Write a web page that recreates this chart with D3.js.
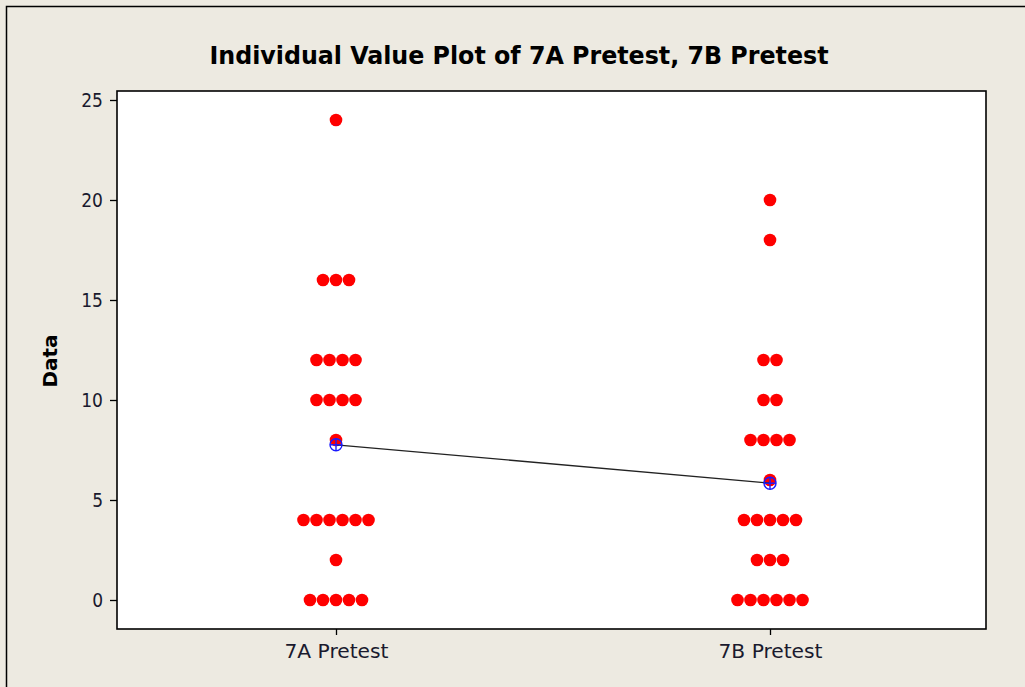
<!DOCTYPE html>
<html><head><meta charset="utf-8">
<script src="https://cdn.jsdelivr.net/npm/d3@7"></script>
<style>html,body{margin:0;padding:0;background:#EDEAE1;overflow:hidden}</style>
</head><body>
<script>
const categories = ["7A Pretest", "7B Pretest"];
const values7A = [24, 16,16,16, 12,12,12,12, 10,10,10,10, 8, 4,4,4,4,4,4, 2, 0,0,0,0,0];
const values7B = [20, 18, 12,12, 10,10, 8,8,8,8, 6, 4,4,4,4,4, 2,2,2, 0,0,0,0,0,0];
const yTicks = [0, 5, 10, 15, 20, 25];
const title = "Individual Value Plot of 7A Pretest, 7B Pretest";
const yLabel = "Data";

const W = 1025, H = 687;
const svg = d3.select("body").append("svg").attr("width", W).attr("height", H);
svg.append("rect").attr("x",0).attr("y",0).attr("width",W).attr("height",H).attr("fill","#EDEAE1");
svg.append("rect").attr("x",6.5).attr("y",6.5).attr("width",W+20).attr("height",H+20)
  .attr("fill","none").attr("stroke","#000").attr("stroke-width",1.5);

const m = {left:117, top:91, right:986, bottom:629};
const x = d3.scaleLinear().domain([0.5, 2.5]).range([119, 987]);
const y = d3.scaleLinear().domain([-1.45, 25.45]).range([m.bottom, m.top]);

svg.append("rect").attr("x",m.left).attr("y",m.top).attr("width",m.right-m.left).attr("height",m.bottom-m.top)
  .attr("fill","#fff").attr("stroke","#000").attr("stroke-width",1.6);

const tickFont = "'DejaVu Sans Condensed', 'DejaVu Sans', sans-serif";
// y axis
const yAxis = d3.axisLeft(y).tickValues(yTicks).tickSize(7).tickPadding(7).tickSizeOuter(0);
const gy = svg.append("g").attr("transform",`translate(${m.left},0)`).call(yAxis);
gy.select(".domain").remove();
gy.selectAll("text").attr("font-family",tickFont).attr("font-size",19).attr("fill","#1a1a2e");
gy.selectAll("line").attr("stroke","#000").attr("stroke-width",1.3);

// x axis
const xAxis = d3.axisBottom(x).tickValues([1,2]).tickFormat((d,i)=>categories[i]).tickSize(6).tickPadding(10).tickSizeOuter(0);
const gx = svg.append("g").attr("transform",`translate(0,${m.bottom})`).call(xAxis);
gx.select(".domain").remove();
gx.selectAll("text").attr("font-family",tickFont).attr("font-size",19).attr("fill","#1a1a2e")
  .attr("textLength",104).attr("lengthAdjust","spacingAndGlyphs");
gx.selectAll("line").attr("stroke","#000").attr("stroke-width",1.3);

// title
svg.append("text").attr("x",519).attr("y",64).attr("text-anchor","middle")
  .attr("font-family","'DejaVu Sans Condensed', 'DejaVu Sans', sans-serif").attr("font-weight","bold").attr("font-size",25)
  .attr("textLength",619).attr("lengthAdjust","spacingAndGlyphs").attr("fill","#000").text(title);

// y label
svg.append("text").attr("transform","translate(57,361) rotate(-90)").attr("text-anchor","middle")
  .attr("font-family","'DejaVu Sans', sans-serif").attr("font-weight","bold").attr("font-size",19)
  .attr("textLength",53).attr("lengthAdjust","spacingAndGlyphs")
  .attr("fill","#000").text(yLabel);

// dots
const step = 13;
const series = [values7A, values7B];
const dotData = [];
series.forEach((vals, si) => {
  const groups = d3.group(vals, v => v);
  groups.forEach((arr, v) => {
    const n = arr.length;
    arr.forEach((_, k) => {
      dotData.push({cat: si+1, v, off: (k - (n-1)/2) * step});
    });
  });
});
svg.append("g").selectAll("circle").data(dotData).join("circle")
  .attr("cx", d => x(d.cat) + d.off).attr("cy", d => y(d.v)).attr("r", 6.3).attr("fill", "#ff0000");

// means
const means = series.map((vals, i) => ({cat: i+1, m: d3.mean(vals)}));
svg.append("path").datum(means)
  .attr("d", d3.line().x(d => x(d.cat)).y(d => y(d.m)))
  .attr("fill","none").attr("stroke","#222").attr("stroke-width",1.3);
const mg = svg.append("g").selectAll("g").data(means).join("g")
  .attr("transform", d => `translate(${x(d.cat)},${y(d.m)})`);
mg.append("circle").attr("r",6).attr("fill","none").attr("stroke","#1a1aff").attr("stroke-width",1.4);
mg.append("line").attr("x1",-6).attr("x2",6).attr("stroke","#1a1aff").attr("stroke-width",1.4);
mg.append("line").attr("y1",-6).attr("y2",6).attr("stroke","#1a1aff").attr("stroke-width",1.4);
</script>
</body></html>
